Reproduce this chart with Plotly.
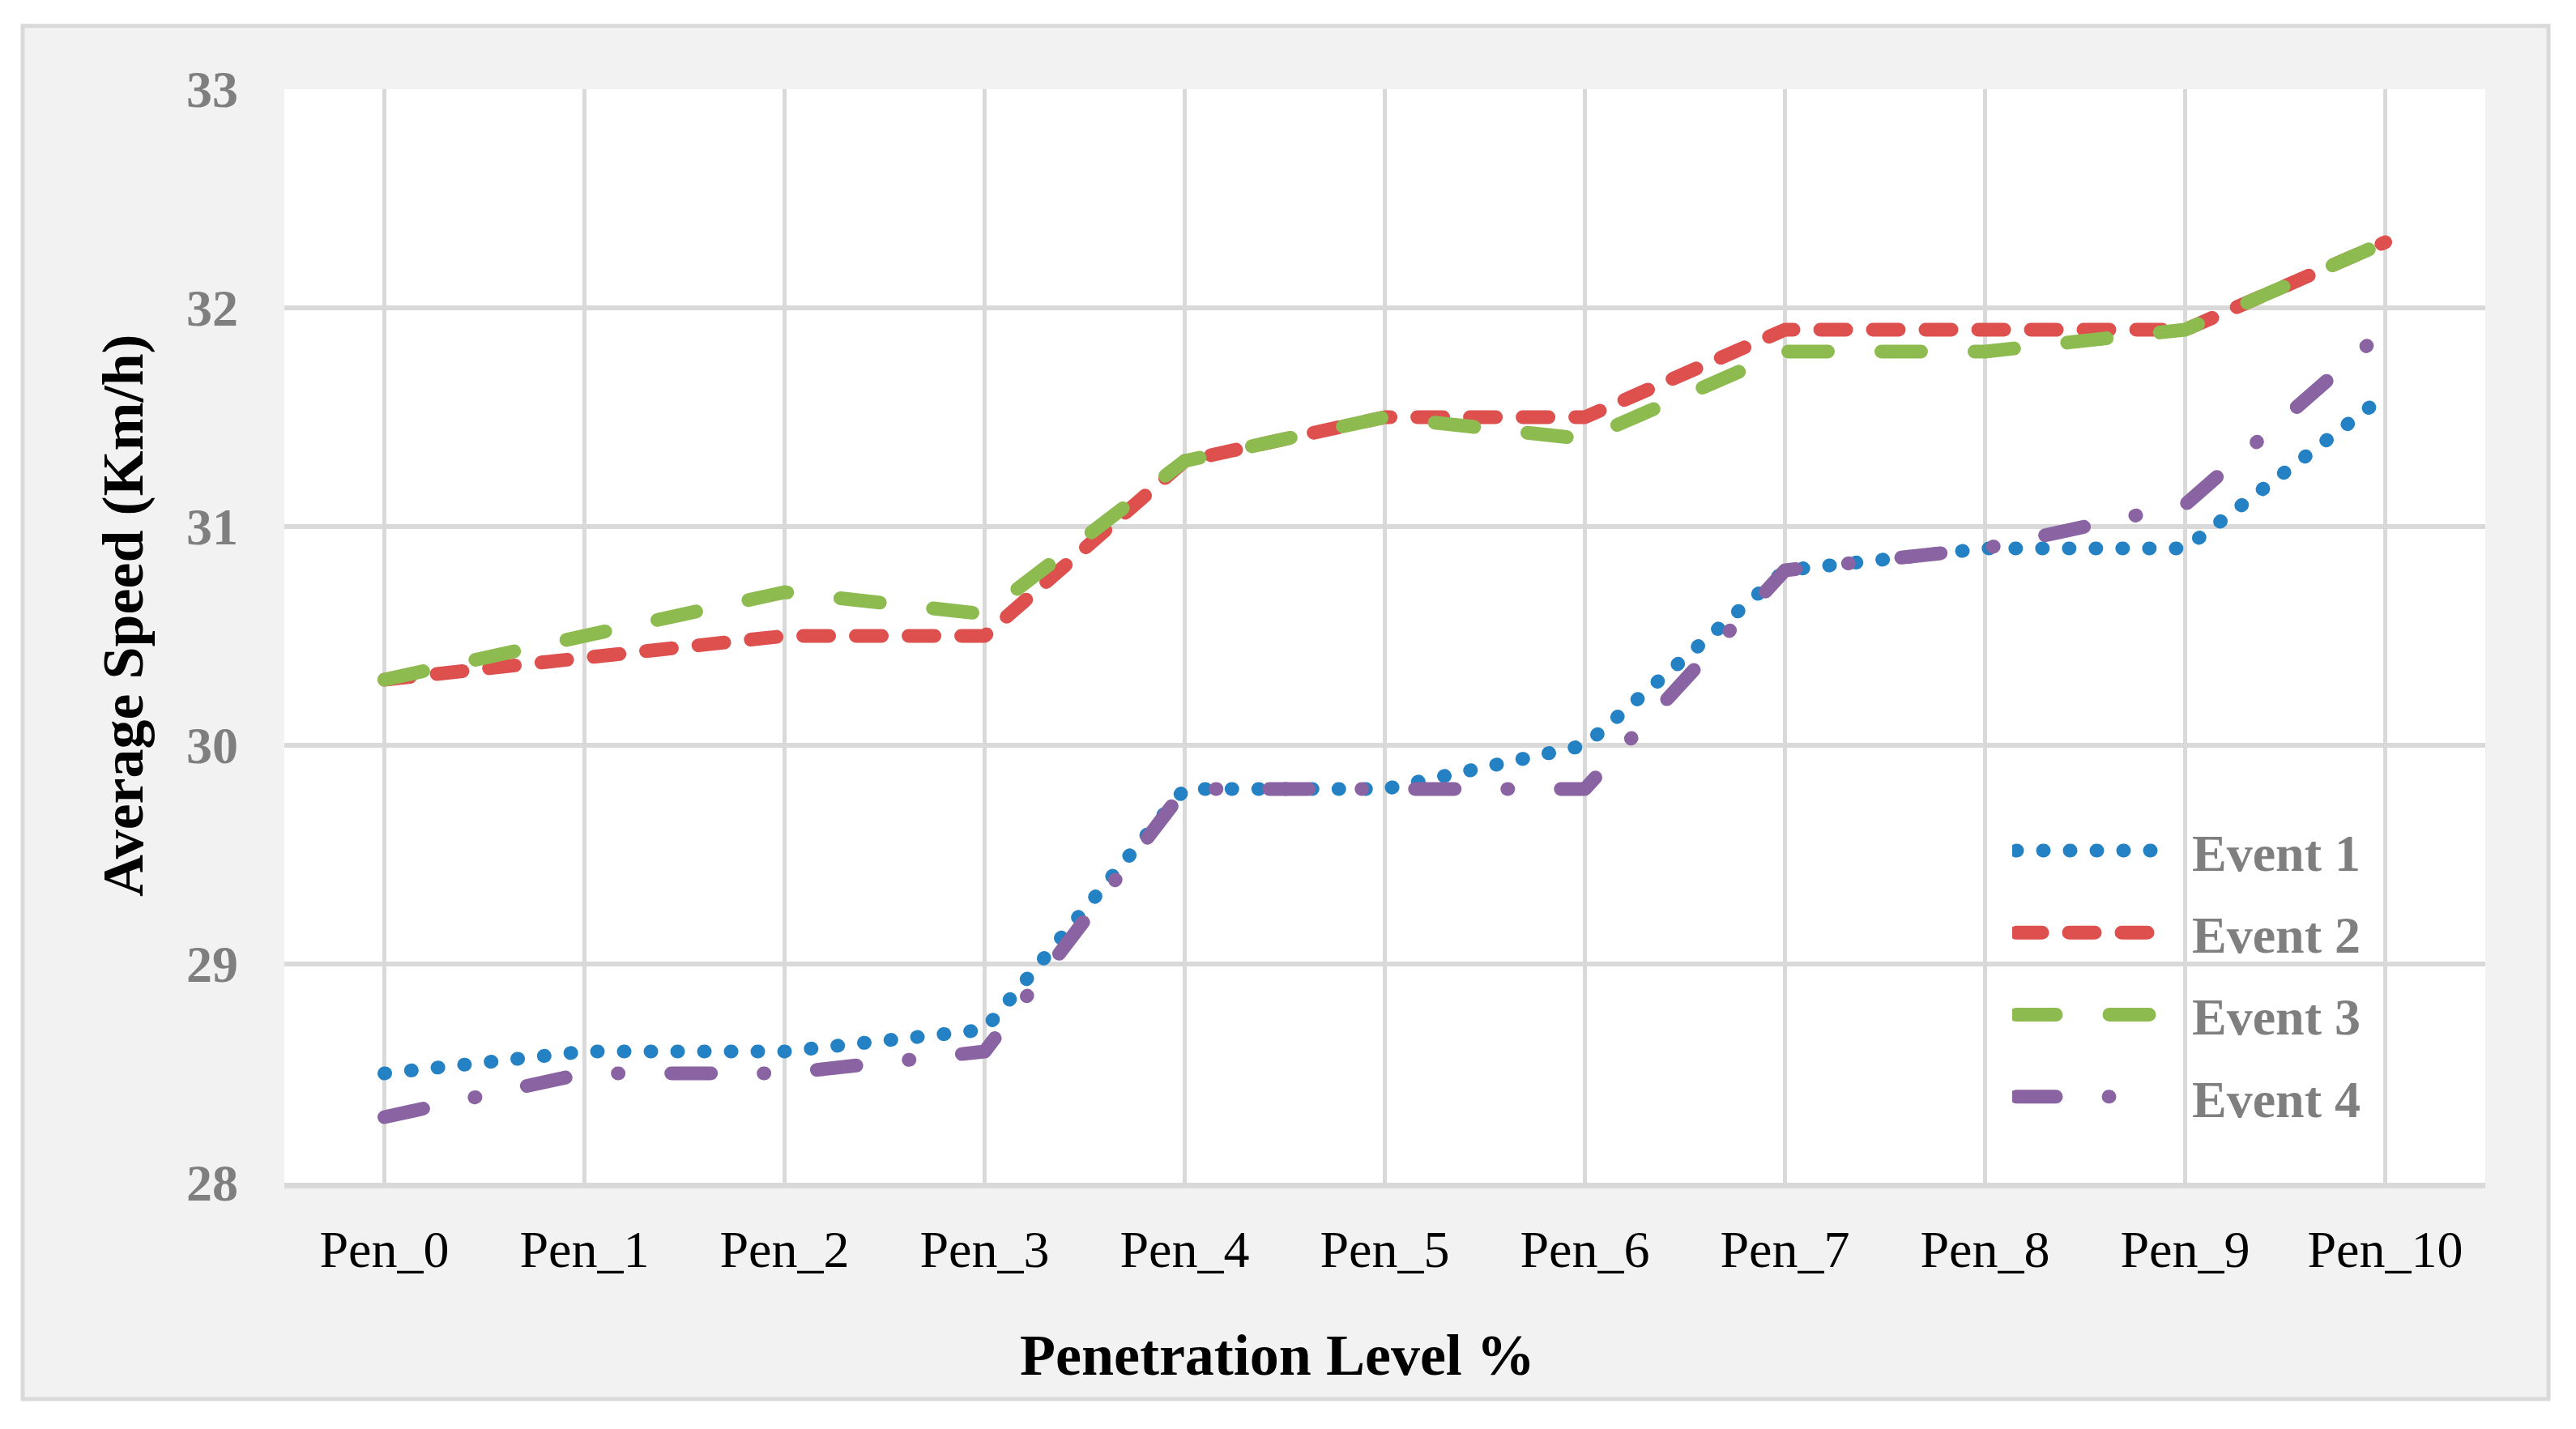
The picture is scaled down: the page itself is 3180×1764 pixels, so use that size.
import plotly.graph_objects as go

categories = ["Pen_0", "Pen_1", "Pen_2", "Pen_3", "Pen_4", "Pen_5",
              "Pen_6", "Pen_7", "Pen_8", "Pen_9", "Pen_10"]
event1 = [28.5, 28.6, 28.6, 28.7, 29.8, 29.8, 30.0, 30.8, 30.9, 30.9, 31.6]
event2 = [30.3, 30.4, 30.5, 30.5, 31.3, 31.5, 31.5, 31.9, 31.9, 31.9, 32.3]
event3 = [30.3, 30.5, 30.7, 30.6, 31.3, 31.5, 31.4, 31.8, 31.8, 31.9, 32.3]
event4 = [28.3, 28.5, 28.5, 28.6, 29.8, 29.8, 29.8, 30.8, 30.9, 31.1, 31.9]
series_names = ["Event 1", "Event 2", "Event 3", "Event 4"]
y_ticks = [28, 29, 30, 31, 32, 33]
x_title = "Penetration Level %"
y_title = "Average Speed (Km/h)"

colors = ["#2481C3", "#DD504E", "#8DBB50", "#8A63A3"]
dashes = ["1px,32px", "32px,33px", "49px,66px", "49px,65px,1px,65px"]
LW = 17
FONT = "Liberation Serif, Times New Roman, serif"

fig = go.Figure()
for i, (name, vals) in enumerate(zip(series_names, [event1, event2, event3, event4])):
    fig.add_trace(go.Scatter(
        x=categories, y=vals, name="\u2002" + name, mode="lines",
        legendgroup=f"g{i}",
        line=dict(color=colors[i], width=LW, dash=dashes[i]),
    ))

W, H = 3180, 1764
L, R, T, B = 351, 112, 110, 304
pw, ph = W - L - R, H - T - B

def px_x(p):
    return (p - L) / pw

def px_y(p):
    return (H - B - p) / ph

fig.update_layout(
    width=W, height=H,
    margin=dict(l=L, r=R, t=T, b=B, pad=0),
    paper_bgcolor="white",
    plot_bgcolor="white",
    font=dict(family=FONT, size=64, color="#000000"),
    showlegend=True,
    legend=dict(
        x=px_x(2484), y=px_y(1002), xanchor="left", yanchor="top",
        bgcolor="rgba(0,0,0,0)",
        font=dict(family=FONT, size=64, color="#7f7f7f", weight="bold"),
        itemwidth=180,
        tracegroupgap=15,
        traceorder="grouped",
    ),
    shapes=[
        dict(type="rect", xref="paper", yref="paper", layer="below",
             x0=px_x(28), x1=px_x(3146), y0=px_y(1727), y1=px_y(32),
             fillcolor="#f2f2f2", line=dict(color="#d9d9d9", width=5)),
        dict(type="rect", xref="paper", yref="paper", layer="below",
             x0=0, x1=1, y0=0, y1=1,
             fillcolor="white", line=dict(width=0)),
    ],
    annotations=[
        dict(text=x_title, xref="paper", yref="paper",
             x=px_x(1577), y=px_y(1673), xanchor="center", yanchor="middle",
             showarrow=False,
             font=dict(family=FONT, size=72, color="#000000", weight="bold")),
        dict(text=y_title, xref="paper", yref="paper", textangle=-90,
             x=px_x(152), y=px_y(760), xanchor="center", yanchor="middle",
             showarrow=False,
             font=dict(family=FONT, size=72, color="#000000", weight="bold")),
    ],
)

fig.update_xaxes(
    type="category", range=[-0.5, 10.5],
    showgrid=True, gridcolor="#d9d9d9", gridwidth=5,
    showline=True, linecolor="#d9d9d9", linewidth=7,
    ticks="", ticklabelstandoff=20,
    tickfont=dict(family=FONT, size=64, color="#000000"),
    zeroline=False,
)
fig.update_yaxes(
    range=[28, 33], tickvals=y_ticks, ticktext=[str(v) for v in y_ticks],
    showgrid=True, gridcolor="#d9d9d9", gridwidth=6,
    showline=False, zeroline=False,
    ticks="", ticklabelstandoff=56,
    tickfont=dict(family=FONT, size=64, color="#7f7f7f", weight="bold"),
)

post = """
document.body.style.margin = '0';
document.body.style.padding = '0';
var s = document.createElement('style');
s.innerHTML = '.scatterlayer .js-line, .legend .js-line {stroke-linecap: round; stroke-linejoin: round;} .legend .js-line {stroke-width: 17px !important;}';
document.head.appendChild(s);
"""

fig.write_html("out.html", post_script=post, config={"displayModeBar": False})
